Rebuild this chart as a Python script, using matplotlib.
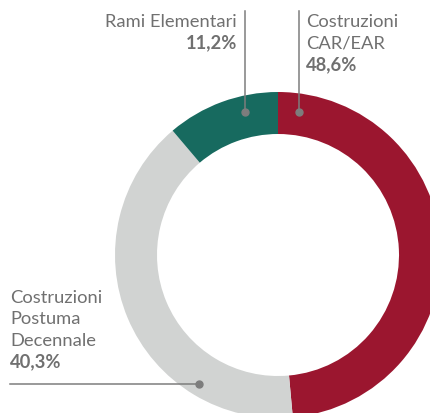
import matplotlib.pyplot as plt

plt.rcParams['font.family'] = ['Lato', 'DejaVu Sans']

labels = ['Costruzioni\nCAR/EAR', 'Costruzioni\nPostuma\nDecennale', 'Rami Elementari']
shares = [48.6, 40.3, 11.2]
share_text = ['48,6%', '40,3%', '11,2%']
colors = ['#9b162f', '#d1d3d2', '#176a5f']

W, H = 431, 414
fig = plt.figure(figsize=(W / 100, H / 100), dpi=100)
ax = fig.add_axes([0, 0, 1, 1])

cx, cy = 278, H - 256
ax.pie(shares, colors=colors, startangle=90, counterclock=False,
       center=(cx, cy), radius=163, frame=True,
       wedgeprops=dict(width=42, linewidth=0))
ax.set_xlim(0, W)
ax.set_ylim(0, H)
ax.set_aspect('equal')
ax.axis('off')

txt_col = '#707070'
line_col = '#7d7d7d'
fs = 13.2
pitch = 21.5


def leader(xs, ys):
    ax.plot(xs, ys, color=line_col, lw=1.1, zorder=5)
    ax.plot(xs[-1], ys[-1], 'o', color=line_col, ms=5, zorder=6)


def block(x, y0, label, value, ha):
    # y0: baseline of first line in pixel rows from the top
    lines = label.split('\n')
    for i, s in enumerate(lines):
        ax.text(x, H - (y0 + i * pitch), s, ha=ha, va='baseline',
                color=txt_col, fontsize=fs)
    ax.text(x, H - (y0 + len(lines) * pitch), value, ha=ha, va='baseline',
            color=txt_col, fontsize=fs, fontweight='bold')


# Costruzioni CAR/EAR
leader([299, 299], [H - 12, H - 113])
block(306, 27, labels[0], share_text[0], 'left')

# Rami Elementari
leader([245, 245], [H - 12, H - 113])
block(237, 27, labels[2], share_text[2], 'right')

# Costruzioni Postuma Decennale
leader([10, 199], [H - 385, H - 385])
block(10, 303, labels[1], share_text[1], 'left')

fig.savefig('out.png', dpi=100)
